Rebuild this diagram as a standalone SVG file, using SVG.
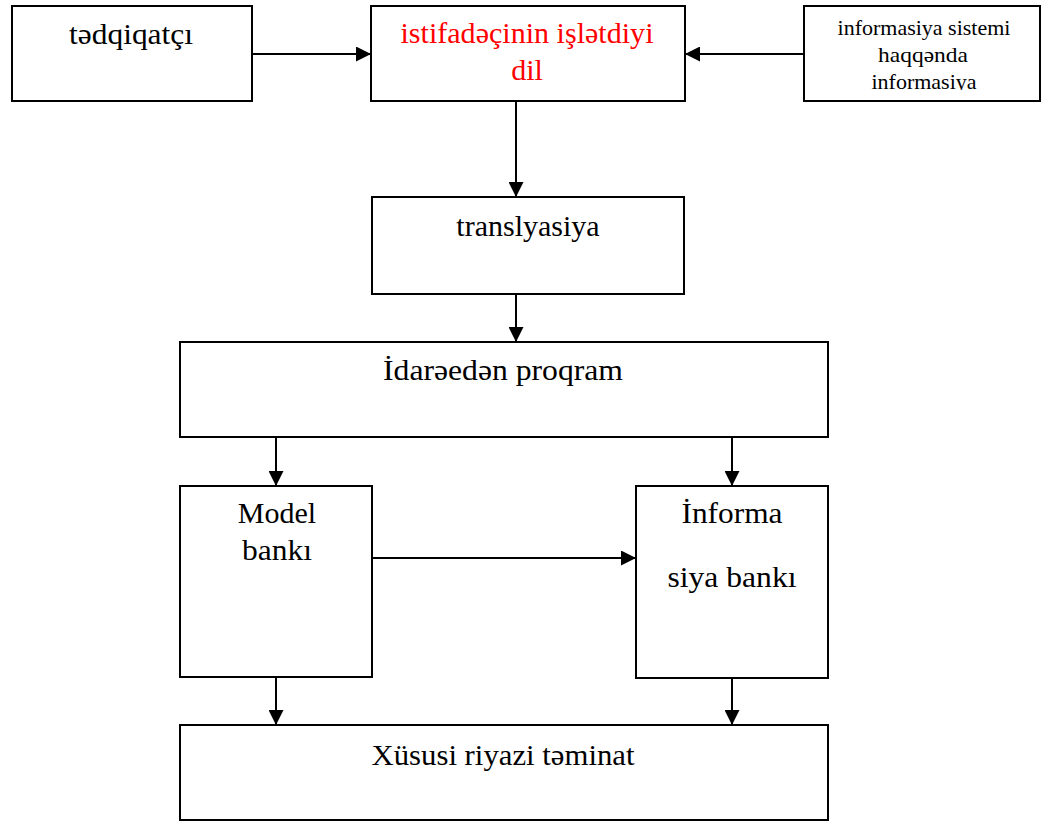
<svg xmlns="http://www.w3.org/2000/svg" width="1045" height="823" viewBox="0 0 1045 823">
<style>
.box{fill:#fff;stroke:#000;stroke-width:2}
.t{font-family:"Liberation Serif","DejaVu Serif","Times New Roman",serif;font-size:30px;fill:#000;text-anchor:middle}
.s{font-size:22px}
.red{fill:#ff0000}
.c{stroke:#000;stroke-width:2;fill:none;marker-end:url(#ah)}
</style>
<defs>
<marker id="ah" markerUnits="userSpaceOnUse" markerWidth="15" markerHeight="15" refX="15" refY="7.5" orient="auto">
<path d="M0,0 L15,7.5 L0,15 z" fill="#000"/>
</marker>
<clipPath id="clip3"><rect x="804" y="6" width="236" height="84"/></clipPath>
</defs>
<rect width="1045" height="823" fill="#fff"/>
<g id="n1"><rect class="box" x="12" y="6" width="240" height="95"/><text class="t" x="131" y="44" textLength="124" lengthAdjust="spacingAndGlyphs">tədqiqatçı</text></g>
<g id="n2"><rect class="box" x="371" y="6" width="314" height="95"/><text class="t red" x="527" y="43" textLength="253" lengthAdjust="spacingAndGlyphs">istifadəçinin işlətdiyi</text><text class="t red" x="527" y="80">dil</text></g>
<g id="n3"><rect class="box" x="804" y="6" width="236" height="95"/><g clip-path="url(#clip3)"><text class="t s" x="924" y="35">informasiya sistemi</text><text class="t s" x="923" y="62" textLength="90" lengthAdjust="spacingAndGlyphs">haqqənda</text><text class="t s" x="924" y="89">informasiya</text></g></g>
<g id="n4"><rect class="box" x="372" y="197" width="312" height="97"/><text class="t" x="528" y="236">translyasiya</text></g>
<g id="n5"><rect class="box" x="180" y="342" width="648" height="95"/><text class="t" x="503" y="380" textLength="240" lengthAdjust="spacingAndGlyphs">İdarəedən proqram</text></g>
<g id="n6"><rect class="box" x="180" y="486" width="192" height="191"/><text class="t" x="277" y="523">Model</text><text class="t" x="277" y="560" textLength="70" lengthAdjust="spacingAndGlyphs">bankı</text></g>
<g id="n7"><rect class="box" x="636" y="486" width="192" height="192"/><text class="t" x="732" y="523" textLength="101" lengthAdjust="spacingAndGlyphs">İnforma</text><text class="t" x="732" y="587" textLength="129" lengthAdjust="spacingAndGlyphs">siya bankı</text></g>
<g id="n8"><rect class="box" x="180" y="725" width="648" height="95"/><text class="t" x="503" y="765" textLength="263" lengthAdjust="spacingAndGlyphs">Xüsusi riyazi təminat</text></g>
<g id="connectors">
<line class="c" x1="252" y1="54" x2="371" y2="54"/>
<line class="c" x1="804" y1="54" x2="685" y2="54"/>
<line class="c" x1="516" y1="101" x2="516" y2="197"/>
<line class="c" x1="516" y1="294" x2="516" y2="342"/>
<line class="c" x1="276" y1="437" x2="276" y2="486"/>
<line class="c" x1="732" y1="437" x2="732" y2="486"/>
<line class="c" x1="372" y1="558" x2="636" y2="558"/>
<line class="c" x1="276" y1="677" x2="276" y2="725"/>
<line class="c" x1="732" y1="678" x2="732" y2="725"/>
</g>
</svg>
